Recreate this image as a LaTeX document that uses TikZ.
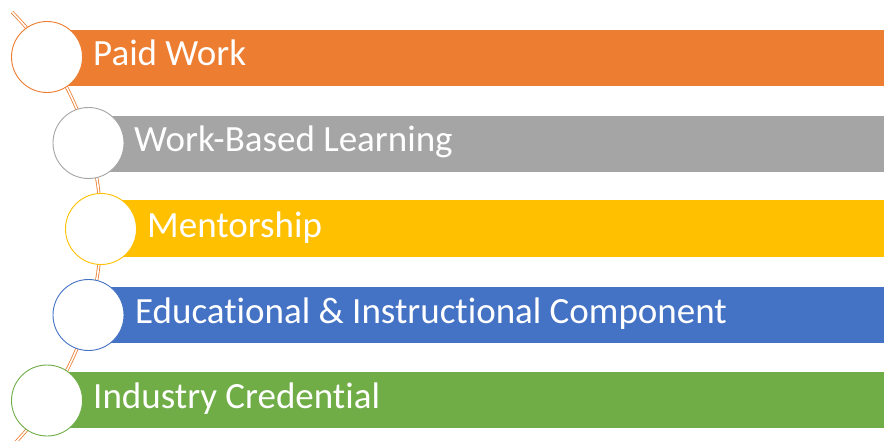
\documentclass[tikz,border=0pt]{standalone}
\usepackage{fontspec}
\setmainfont{Carlito}[RawFeature={-liga;-clig;-dlig;-calt}]
\definecolor{cOrange}{HTML}{ED7D31}
\definecolor{cGray}{HTML}{A5A5A5}
\definecolor{cYellow}{HTML}{FFC000}
\definecolor{cBlue}{HTML}{4472C4}
\definecolor{cGreen}{HTML}{70AD47}
\begin{document}
\begin{tikzpicture}[x=1pt,y=-1pt,
  bar/.style={fill=#1, draw=none, anchor=west, minimum height=56pt, inner sep=0pt},
  ring/.style={circle, draw=#1, line width=0.9pt, fill=white, minimum size=71pt, inner sep=0pt},
  label/.style={anchor=base west, text=white, font=\fontsize{37}{42}\selectfont, inner sep=0pt}]
\useasboundingbox (0,0) rectangle (884,441);
% arc
\draw[cOrange, line width=0.8pt, double=white, double distance=1.6pt]
  (-208,229) ++(44.6:309) arc[start angle=44.6, end angle=-44.6, radius=309];
% bars
\node[bar=cOrange, minimum width=837pt] (b1) at (47,58) {};
\node[bar=cGray, minimum width=795.5pt] (b2) at (88.5,144) {};
\node[bar=cYellow, minimum width=783pt] (b3) at (101,228.5) {};
\node[bar=cBlue, minimum width=795.5pt] (b4) at (88.5,315) {};
\node[bar=cGreen, minimum width=837pt] (b5) at (47,400) {};
% circles
\node[ring=cOrange] (c1) at (47,57) {};
\node[ring=cGray] (c2) at (88.5,143) {};
\node[ring=cYellow] (c3) at (101,229) {};
\node[ring=cBlue] (c4) at (88.5,315) {};
\node[ring=cGreen] (c5) at (47,400.5) {};
% labels
\node[label] (t1) at (93,66) {Paid Work};
\node[label] (t2) at (134,152) {Work-Based Learning};
\node[label] (t3) at (147,237) {Mentorship};
\node[label] (t4) at (135,323) {Educa{}tional \& Instruc{}tional Component};
\node[label] (t5) at (93,408) {Industry Creden{}tial};
\end{tikzpicture}
\end{document}
